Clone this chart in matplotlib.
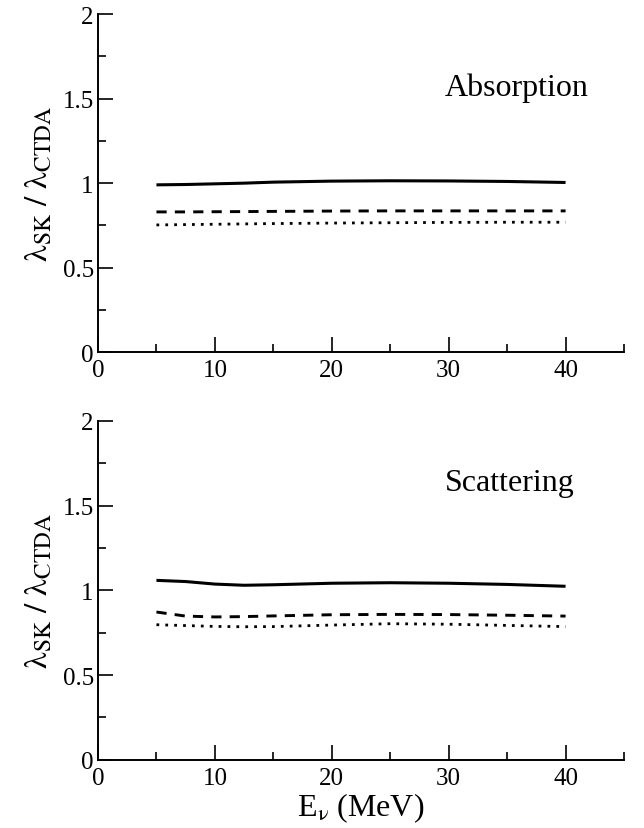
import numpy as np
import matplotlib
matplotlib.use("Agg")
import matplotlib.pyplot as plt
from matplotlib.ticker import MultipleLocator

plt.rcParams['font.family'] = ['Liberation Serif', 'DejaVu Serif']
plt.rcParams['mathtext.fontset'] = 'stix'

# neutrino energy (MeV)
energy = [5, 7.5, 10, 12.5, 15, 20, 25, 30, 35, 40]

# absorption ratios
abs_solid = [0.990, 0.992, 0.996, 1.000, 1.006, 1.012, 1.014, 1.013, 1.010, 1.004]
abs_dash = [0.830, 0.830, 0.831, 0.832, 0.833, 0.835, 0.836, 0.836, 0.836, 0.836]
abs_dot = [0.753, 0.755, 0.757, 0.759, 0.761, 0.764, 0.766, 0.768, 0.769, 0.769]

# scattering ratios
sca_solid = [1.059, 1.052, 1.037, 1.030, 1.033, 1.042, 1.045, 1.042, 1.035, 1.024]
sca_dash = [0.872, 0.848, 0.843, 0.845, 0.849, 0.856, 0.858, 0.857, 0.853, 0.848]
sca_dot = [0.797, 0.792, 0.787, 0.785, 0.786, 0.795, 0.803, 0.800, 0.793, 0.786]

panels = [("Absorption", abs_solid, abs_dash, abs_dot, 1.52),
          ("Scattering", sca_solid, sca_dash, sca_dot, 1.59)]

W, H = 644, 829
fig = plt.figure(figsize=(W / 100, H / 100), dpi=100)

boxes = [(98, 15, 624, 353.3), (98, 422, 624, 760.7)]

for i, (name, s, d, o, ty) in enumerate(panels):
    x0, yt, x1, yb = boxes[i]
    ax = fig.add_axes([x0 / W, 1 - yb / H, (x1 - x0) / W, (yb - yt) / H])

    ax.plot(energy, s, color='black', lw=2.2, solid_capstyle='butt')
    ax.plot(energy, d, color='black', lw=2.1, dashes=(3.5, 2.8))
    ax.plot(energy, o, color='black', lw=2.0, dashes=(1, 2.2))

    ax.set_xlim(0, 45)
    ax.set_ylim(0, 2)
    ax.xaxis.set_major_locator(MultipleLocator(10))
    ax.xaxis.set_minor_locator(MultipleLocator(5))
    ax.yaxis.set_minor_locator(MultipleLocator(0.25))
    ax.set_yticks([0, 0.5, 1, 1.5, 2])
    ax.set_yticklabels(["0", "0.5", "1", "1.5", "2"])

    for side in ['top', 'right']:
        ax.spines[side].set_visible(False)
    for side in ['left', 'bottom']:
        ax.spines[side].set_linewidth(1.4)

    ax.tick_params(which='major', direction='in', length=11, width=1.2,
                   labelsize=18)
    ax.tick_params(which='minor', direction='in', length=6, width=1.2)
    ax.tick_params(axis='x', which='major', pad=5)
    ax.tick_params(axis='y', which='major', pad=3)

    ax.set_ylabel(r'$\mathrm{\lambda}_{\rm SK}\ /\ \mathrm{\lambda}_{\rm CTDA}$',
                  fontsize=24, labelpad=6)
    ax.text(29.7, ty, name, fontsize=23, ha='left', va='baseline')

    if i == 1:
        ax.set_xlabel(r'E$_{\mathrm{\nu}}$ (MeV)', fontsize=23, labelpad=1)

fig.savefig("out.png", dpi=100)
